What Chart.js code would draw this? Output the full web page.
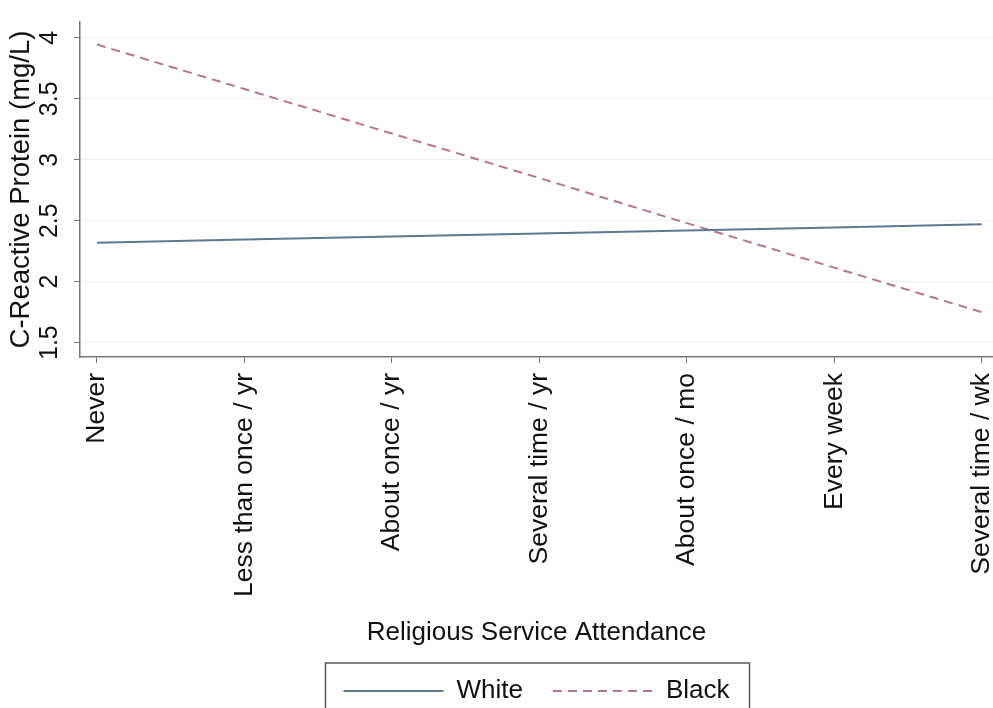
<!DOCTYPE html>
<html>
<head>
<meta charset="utf-8">
<script src="https://cdn.jsdelivr.net/npm/chart.js@4.4.1/dist/chart.umd.min.js"></script>
<style>
  html, body { margin: 0; padding: 0; background: #fff; }
  #wrap { width: 993px; height: 708px; position: relative; }
</style>
</head>
<body>
<div id="wrap"><canvas id="chart"></canvas></div>
<script>
// religious service attendance categories
const categories = ['Never', 'Less than once / yr', 'About once / yr', 'Several time / yr',
  'About once / mo', 'Every week', 'Several time / wk'];

// predicted CRP (mg/L)
const whiteValues = [2.32, 2.345, 2.37, 2.395, 2.42, 2.445, 2.47];
const blackValues = [3.945, 3.58, 3.215, 2.85, 2.48, 2.115, 1.75];

const yTicks = [1.5, 2, 2.5, 3, 3.5, 4];

const FONT = "'Liberation Sans', Arial, Helvetica, sans-serif";
const LEGEND_PAD = 30;
const BOTTOM_PAD = -6;   // legend box runs off the bottom edge like in the original
const X_AXIS_H = 291;

// frame round the legend items, like the stata legend box
const legendFrame = {
  id: 'legendFrame',
  afterDraw(chart) {
    const lg = chart.legend;
    if (!lg || !lg.legendHitBoxes || !lg.legendHitBoxes.length) return;
    const boxes = lg.legendHitBoxes;
    const left = Math.min(...boxes.map(b => b.left)) - 18;
    const right = Math.max(...boxes.map(b => b.left + b.width)) + 20;
    const top = Math.min(...boxes.map(b => b.top)) - 15;
    const c = chart.ctx;
    c.save();
    c.strokeStyle = '#555';
    c.lineWidth = 1.5;
    c.strokeRect(left, top, right - left, chart.height);
    c.restore();
  }
};

const ctx = document.getElementById('chart');

new Chart(ctx, {
  type: 'line',
  data: {
    datasets: [
      {
        label: 'White',
        data: whiteValues.map((v, i) => ({x: i, y: v})),
        borderColor: '#5c7990',
        backgroundColor: '#5c7990',
        borderWidth: 2,
        pointRadius: 0,
        tension: 0
      },
      {
        label: 'Black',
        data: blackValues.map((v, i) => ({x: i, y: v})),
        borderColor: '#bb7680',
        backgroundColor: '#bb7680',
        borderWidth: 2,
        borderDash: [9, 6],
        pointRadius: 0,
        tension: 0
      }
    ]
  },
  options: {
    responsive: true,
    maintainAspectRatio: false,
    animation: false,
    layout: { padding: { top: 8, right: 0, left: 0, bottom: BOTTOM_PAD } },
    scales: {
      x: {
        type: 'linear',
        min: -0.115,
        max: 6.076,
        afterBuildTicks: (axis) => { axis.ticks = categories.map((c, i) => ({value: i})); },
        afterFit: (axis) => {
          axis.height = X_AXIS_H;
          axis.paddingLeft = 0;
          axis.paddingRight = 0;
        },
        ticks: {
          callback: (v) => categories[v],
          minRotation: 90,
          maxRotation: 90,
          autoSkip: false,
          color: '#111',
          padding: 10,
          font: { family: FONT, size: 26.5 }
        },
        grid: { drawOnChartArea: false, drawTicks: true, tickLength: 6, tickColor: '#777' },
        border: { color: '#777', width: 1.5 },
        title: {
          display: true,
          text: 'Religious Service Attendance',
          color: '#111',
          font: { family: FONT, size: 26 },
          padding: { top: 4, bottom: 0 }
        }
      },
      y: {
        min: 1.382,
        max: 4.13,
        afterBuildTicks: (axis) => { axis.ticks = yTicks.map(v => ({value: v})); },
        afterFit: (axis) => { axis.width = 80; },
        ticks: {
          callback: (v) => String(v),
          minRotation: 90,
          maxRotation: 90,
          crossAlign: 'center',
          color: '#111',
          padding: 7,
          font: { family: FONT, size: 25 }
        },
        grid: { color: '#eef1f3', lineWidth: 1, tickLength: 6, tickColor: '#777' },
        border: { color: '#777', width: 1.5 },
        title: {
          display: true,
          text: 'C-Reactive Protein (mg/L)',
          color: '#111',
          font: { family: FONT, size: 27.5 },
          padding: { top: 5, bottom: 0 }
        }
      }
    },
    plugins: {
      tooltip: { enabled: false },
      legend: {
        position: 'bottom',
        fullSize: false,
        labels: {
          usePointStyle: true,
          pointStyle: 'line',
          pointStyleWidth: 100,
          boxWidth: 100,
          boxHeight: 26,
          padding: LEGEND_PAD,
          color: '#111',
          font: { family: FONT, size: 26 },
          generateLabels: (chart) => {
            const items = Chart.defaults.plugins.legend.labels.generateLabels(chart);
            items.forEach(it => {
              const ds = chart.data.datasets[it.datasetIndex];
              it.lineDash = ds.borderDash || [];
              it.lineWidth = 2;
              it.strokeStyle = ds.borderColor;
            });
            return items;
          }
        }
      }
    }
  },
  plugins: [legendFrame]
});
</script>
</body>
</html>
